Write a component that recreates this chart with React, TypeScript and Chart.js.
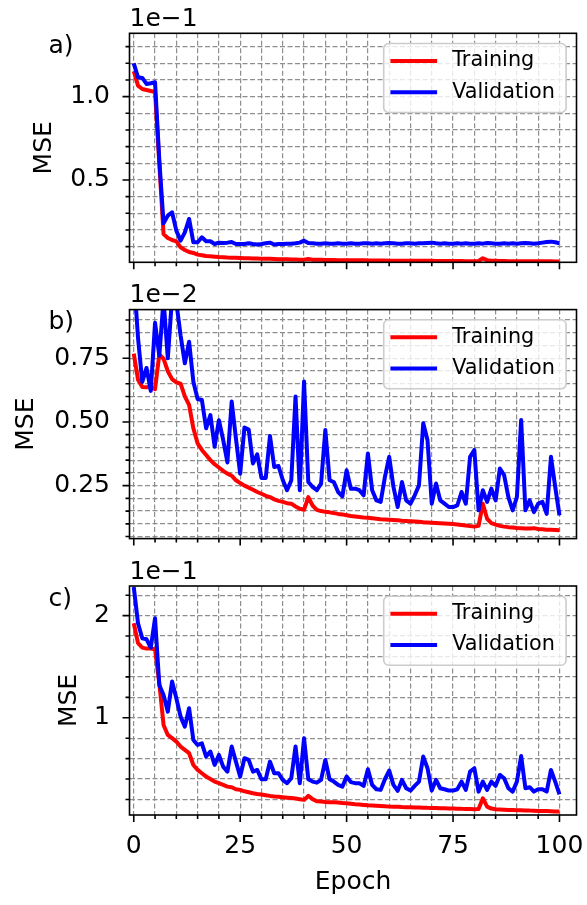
import React, { useEffect, useRef } from 'react';
import { Chart, registerables } from 'chart.js';

Chart.register(...registerables);

const FONT = "'DejaVu Sans', sans-serif";
Chart.defaults.font.family = FONT;
Chart.defaults.color = '#000';

// ---------------- data (values in units of the axis offset: 1e-1, 1e-2, 1e-1) -------------
const epochs: number[] = Array.from({ length: 101 }, (_, i) => i);

const trainA = [
  1.152, 1.066, 1.046, 1.040, 1.034, 1.028, 0.600, 0.175, 0.152, 0.140,
  0.132, 0.096, 0.080, 0.068, 0.062, 0.052, 0.048, 0.044, 0.042, 0.040,
  0.038, 0.037, 0.035, 0.034, 0.033, 0.032, 0.031, 0.030, 0.029, 0.029,
  0.028, 0.027, 0.027, 0.026, 0.025, 0.024, 0.024, 0.023, 0.023, 0.022,
  0.022, 0.026, 0.022, 0.021, 0.021, 0.020, 0.020, 0.020, 0.019, 0.019,
  0.019, 0.018, 0.018, 0.018, 0.018, 0.017, 0.017, 0.017, 0.017, 0.017,
  0.016, 0.016, 0.016, 0.016, 0.016, 0.015, 0.015, 0.015, 0.015, 0.015,
  0.015, 0.014, 0.014, 0.014, 0.014, 0.014, 0.014, 0.014, 0.013, 0.013,
  0.013, 0.014, 0.030, 0.019, 0.016, 0.015, 0.014, 0.014, 0.013, 0.013,
  0.013, 0.013, 0.013, 0.012, 0.012, 0.012, 0.012, 0.012, 0.012, 0.011,
  0.011,
];
const valA = [
  1.200, 1.116, 1.112, 1.076, 1.080, 1.086, 0.620, 0.240, 0.286, 0.306,
  0.196, 0.136, 0.186, 0.266, 0.126, 0.126, 0.156, 0.132, 0.132, 0.116,
  0.124, 0.122, 0.124, 0.128, 0.116, 0.116, 0.116, 0.120, 0.116, 0.113,
  0.116, 0.120, 0.124, 0.113, 0.116, 0.116, 0.118, 0.118, 0.120, 0.124,
  0.136, 0.122, 0.120, 0.118, 0.118, 0.120, 0.118, 0.118, 0.120, 0.118,
  0.118, 0.120, 0.118, 0.118, 0.120, 0.120, 0.118, 0.120, 0.118, 0.120,
  0.122, 0.120, 0.118, 0.118, 0.120, 0.120, 0.118, 0.120, 0.120, 0.122,
  0.124, 0.120, 0.118, 0.120, 0.118, 0.118, 0.120, 0.118, 0.120, 0.118,
  0.118, 0.120, 0.118, 0.122, 0.120, 0.118, 0.118, 0.120, 0.118, 0.120,
  0.118, 0.120, 0.122, 0.120, 0.118, 0.120, 0.124, 0.128, 0.130, 0.126,
  0.120,
];

const trainB = [
  0.768, 0.666, 0.637, 0.636, 0.637, 0.629, 0.765, 0.748, 0.699, 0.668,
  0.655, 0.650, 0.600, 0.567, 0.475, 0.416, 0.390, 0.370, 0.350, 0.334,
  0.321, 0.308, 0.297, 0.289, 0.271, 0.260, 0.250, 0.242, 0.234, 0.225,
  0.218, 0.210, 0.205, 0.196, 0.190, 0.186, 0.181, 0.179, 0.168, 0.159,
  0.155, 0.205, 0.172, 0.155, 0.150, 0.147, 0.145, 0.142, 0.139, 0.137,
  0.134, 0.131, 0.129, 0.127, 0.125, 0.124, 0.122, 0.120, 0.118, 0.117,
  0.116, 0.115, 0.114, 0.112, 0.111, 0.110, 0.109, 0.108, 0.106, 0.105,
  0.104, 0.103, 0.102, 0.101, 0.100, 0.099, 0.097, 0.095, 0.093, 0.091,
  0.089, 0.092, 0.179, 0.120, 0.103, 0.097, 0.092, 0.089, 0.087, 0.086,
  0.084, 0.083, 0.082, 0.082, 0.083, 0.080, 0.079, 0.077, 0.077, 0.076,
  0.075,
];
const valB = [
  1.080, 0.830, 0.657, 0.712, 0.622, 0.889, 0.760, 0.980, 0.750, 0.990,
  0.970, 0.840, 0.730, 0.815, 0.658, 0.590, 0.586, 0.475, 0.527, 0.403,
  0.507, 0.430, 0.341, 0.580, 0.435, 0.297, 0.478, 0.470, 0.337, 0.373,
  0.280, 0.280, 0.445, 0.323, 0.327, 0.272, 0.232, 0.270, 0.600, 0.232,
  0.659, 0.264, 0.245, 0.232, 0.258, 0.468, 0.271, 0.264, 0.225, 0.208,
  0.310, 0.238, 0.238, 0.232, 0.212, 0.376, 0.232, 0.192, 0.186, 0.284,
  0.363, 0.245, 0.166, 0.264, 0.192, 0.179, 0.212, 0.251, 0.495, 0.429,
  0.179, 0.258, 0.192, 0.179, 0.166, 0.166, 0.172, 0.225, 0.179, 0.363,
  0.390, 0.153, 0.232, 0.186, 0.238, 0.192, 0.317, 0.291, 0.205, 0.153,
  0.205, 0.508, 0.153, 0.192, 0.146, 0.179, 0.186, 0.139, 0.363, 0.245,
  0.133,
];

const trainC = [
  1.925, 1.730, 1.687, 1.677, 1.677, 1.670, 1.338, 0.930, 0.832, 0.800,
  0.767, 0.718, 0.685, 0.653, 0.538, 0.490, 0.457, 0.424, 0.401, 0.375,
  0.359, 0.343, 0.326, 0.320, 0.300, 0.294, 0.280, 0.271, 0.261, 0.254,
  0.248, 0.242, 0.235, 0.230, 0.226, 0.222, 0.218, 0.214, 0.209, 0.203,
  0.196, 0.235, 0.203, 0.183, 0.180, 0.176, 0.174, 0.172, 0.170, 0.166,
  0.163, 0.158, 0.153, 0.150, 0.147, 0.144, 0.142, 0.139, 0.136, 0.133,
  0.130, 0.129, 0.128, 0.126, 0.125, 0.124, 0.122, 0.121, 0.120, 0.118,
  0.117, 0.116, 0.115, 0.114, 0.112, 0.111, 0.110, 0.108, 0.107, 0.106,
  0.104, 0.106, 0.212, 0.130, 0.111, 0.104, 0.102, 0.100, 0.098, 0.097,
  0.095, 0.094, 0.093, 0.091, 0.090, 0.088, 0.087, 0.086, 0.085, 0.083,
  0.082,
];
const valC = [
  2.280, 1.925, 1.778, 1.768, 1.687, 1.974, 1.321, 1.223, 1.060, 1.354,
  1.190, 1.011, 0.913, 1.093, 0.783, 0.734, 0.750, 0.620, 0.669, 0.538,
  0.636, 0.522, 0.473, 0.718, 0.571, 0.424, 0.604, 0.587, 0.473, 0.489,
  0.398, 0.398, 0.571, 0.457, 0.457, 0.392, 0.359, 0.408, 0.718, 0.359,
  0.799, 0.398, 0.375, 0.365, 0.392, 0.587, 0.398, 0.375, 0.343, 0.326,
  0.424, 0.370, 0.360, 0.359, 0.333, 0.496, 0.343, 0.300, 0.294, 0.398,
  0.483, 0.343, 0.284, 0.392, 0.310, 0.287, 0.333, 0.375, 0.620, 0.506,
  0.287, 0.392, 0.310, 0.300, 0.287, 0.287, 0.300, 0.375, 0.294, 0.473,
  0.506, 0.277, 0.375, 0.294, 0.375, 0.333, 0.440, 0.408, 0.310, 0.277,
  0.375, 0.626, 0.310, 0.320, 0.277, 0.300, 0.300, 0.277, 0.489, 0.375,
  0.251,
];

// ---------------- ticks ----------------
const xTicks = [0, 5, 10, 15, 20, 25, 30, 35, 40, 45, 50, 55, 60, 65, 70, 75, 80, 85, 90, 95, 100];
const xMajor = [0, 25, 50, 75, 100];
const xMajorLabels = ['0', '25', '50', '75', '100'];

const yTicksA = [0.1, 0.2, 0.3, 0.4, 0.5, 0.6, 0.7, 0.8, 0.9, 1.0, 1.1, 1.2, 1.3];
const yMajorA = [0.5, 1.0];
const yLabelsA = ['0.5', '1.0'];

const yTicksB = [0.05, 0.1, 0.15, 0.2, 0.25, 0.3, 0.35, 0.4, 0.45, 0.5, 0.55, 0.6, 0.65, 0.7, 0.75, 0.8, 0.85, 0.9];
const yMajorB = [0.25, 0.5, 0.75];
const yLabelsB = ['0.25', '0.50', '0.75'];

const yTicksC = [0.2, 0.4, 0.6, 0.8, 1.0, 1.2, 1.4, 1.6, 1.8, 2.0, 2.2];
const yMajorC = [1, 2];
const yLabelsC = ['1', '2'];

const seriesNames = ['Training', 'Validation'];
const seriesColors = ['#ff0000', '#0000ff'];

// ---------------- panel layout ----------------
type Panel = {
  key: string; letter: string; offsetText: string;
  train: number[]; val: number[];
  yMin: number; yMax: number; yTicks: number[]; yMajor: number[]; yLabels: string[];
  titlePad: number; canvasTop: number; canvasH: number; padTop: number; xH: number; showX: boolean;
};

const PANELS: Panel[] = [
  { key: 'a', letter: 'a)', offsetText: '1e\u22121', train: trainA, val: valA,
    yMin: 0.006, yMax: 1.38, yTicks: yTicksA, yMajor: yMajorA, yLabels: yLabelsA,
    titlePad: 32.2, canvasTop: 0, canvasH: 276, padTop: 33.3, xH: 13.7, showX: false },
  { key: 'b', letter: 'b)', offsetText: '1e\u22122', train: trainB, val: valB,
    yMin: 0.042, yMax: 0.941, yTicks: yTicksB, yMajor: yMajorB, yLabels: yLabelsB,
    titlePad: 13.8, canvasTop: 276, canvasH: 276, padTop: 33.6, xH: 13.4, showX: false },
  { key: 'c', letter: 'c)', offsetText: '1e\u22121', train: trainC, val: valC,
    yMin: 0.048, yMax: 2.29, yTicks: yTicksC, yMajor: yMajorC, yLabels: yLabelsC,
    titlePad: 57.2, canvasTop: 552, canvasH: 353, padTop: 34, xH: 90, showX: true },
];

const GRID = '#8e8e8e';
const LINE_W = 4;
const near = (a: number, b: number) => Math.abs(a - b) < 1e-9;

function decorPlugin(p: Panel) {
  return {
    id: 'decor_' + p.key,
    afterDraw(chart: any) {
      const ctx: CanvasRenderingContext2D = chart.ctx;
      const { left, right, top, bottom } = chart.chartArea;
      const xs = chart.scales.x;
      const ys = chart.scales.y;
      ctx.save();
      // tick marks
      ctx.strokeStyle = '#000';
      ctx.lineWidth = 1.6;
      ctx.setLineDash([]);
      ctx.beginPath();
      xTicks.forEach((v) => {
        const px = xs.getPixelForValue(v);
        const len = xMajor.some((m) => near(m, v)) ? 7 : 4;
        ctx.moveTo(px, bottom);
        ctx.lineTo(px, bottom + len);
      });
      p.yTicks.forEach((v) => {
        const py = ys.getPixelForValue(v);
        const len = p.yMajor.some((m) => near(m, v)) ? 7 : 4;
        ctx.moveTo(left, py);
        ctx.lineTo(left - len, py);
      });
      ctx.stroke();
      // spines
      ctx.strokeRect(left, top, right - left, bottom - top);

      // offset text and panel letter
      ctx.fillStyle = '#000';
      ctx.font = `25px ${FONT}`;
      ctx.textAlign = 'left';
      ctx.textBaseline = 'alphabetic';
      ctx.fillText(p.offsetText, left, top - 7.5);
      ctx.fillText(p.letter, 48.5, top + 19.5);

      // legend
      const boxW = 182.4;
      const boxH = 69;
      const bx = right - 10.4 - boxW;
      const by = top + 10.2;
      const r = 5;
      ctx.beginPath();
      ctx.moveTo(bx + r, by);
      ctx.lineTo(bx + boxW - r, by);
      ctx.arcTo(bx + boxW, by, bx + boxW, by + r, r);
      ctx.lineTo(bx + boxW, by + boxH - r);
      ctx.arcTo(bx + boxW, by + boxH, bx + boxW - r, by + boxH, r);
      ctx.lineTo(bx + r, by + boxH);
      ctx.arcTo(bx, by + boxH, bx, by + boxH - r, r);
      ctx.lineTo(bx, by + r);
      ctx.arcTo(bx, by, bx + r, by, r);
      ctx.closePath();
      ctx.fillStyle = 'rgba(255,255,255,0.8)';
      ctx.fill();
      ctx.strokeStyle = '#cccccc';
      ctx.lineWidth = 1.6;
      ctx.stroke();

      const rows = [17.5, 48.8];
      ctx.font = `20.8px ${FONT}`;
      ctx.textBaseline = 'middle';
      seriesNames.forEach((name, i) => {
        const ly = by + rows[i];
        ctx.strokeStyle = seriesColors[i];
        ctx.lineWidth = LINE_W;
        ctx.lineCap = 'butt';
        ctx.beginPath();
        ctx.moveTo(bx + 6.7, ly);
        ctx.lineTo(bx + 53.4, ly);
        ctx.stroke();
        ctx.fillStyle = '#000';
        ctx.fillText(name, bx + 68.5, ly);
      });
      ctx.restore();
    },
  };
}

function buildConfig(p: Panel): any {
  const yLabel = (v: number) => {
    const k = p.yMajor.findIndex((m) => near(m, v));
    return k >= 0 ? p.yLabels[k] : '';
  };
  const xLabel = (v: number) => {
    if (!p.showX) return '';
    const k = xMajor.findIndex((m) => near(m, v));
    return k >= 0 ? xMajorLabels[k] : '';
  };
  return {
    type: 'line',
    data: {
      datasets: [
        {
          label: seriesNames[0],
          data: epochs.map((e, i) => ({ x: e, y: p.train[i] })),
          borderColor: seriesColors[0],
          borderWidth: LINE_W,
          pointRadius: 0,
          tension: 0,
          borderJoinStyle: 'round',
          order: 1,
        },
        {
          label: seriesNames[1],
          data: epochs.map((e, i) => ({ x: e, y: p.val[i] })),
          borderColor: seriesColors[1],
          borderWidth: LINE_W,
          pointRadius: 0,
          tension: 0,
          borderJoinStyle: 'round',
          order: 0,
        },
      ],
    },
    options: {
      animation: false,
      responsive: false,
      maintainAspectRatio: false,
      events: [],
      layout: { padding: { left: 0, right: 10.5, top: p.padTop, bottom: 0 } },
      plugins: { legend: { display: false }, tooltip: { enabled: false }, title: { display: false } },
      scales: {
        x: {
          type: 'linear',
          min: -1,
          max: 104,
          bounds: 'data',
          afterBuildTicks: (s: any) => { s.ticks = xTicks.map((v) => ({ value: v })); },
          afterFit: (s: any) => { s.height = p.xH; s.paddingLeft = 0; s.paddingRight = 0; },
          grid: { color: GRID, lineWidth: 1.2, drawTicks: false },
          border: { display: false, dash: [5, 2.5] },
          ticks: {
            autoSkip: false, maxRotation: 0, minRotation: 0, padding: 19.2,
            color: '#000', font: { size: 25, family: FONT, lineHeight: 1 },
            callback: (v: number) => xLabel(v),
          },
          title: p.showX
            ? { display: true, text: 'Epoch', color: '#000', font: { size: 25, family: FONT, lineHeight: 1 }, padding: { top: 0, bottom: 10.1 } }
            : { display: false },
        },
        y: {
          type: 'linear',
          min: p.yMin,
          max: p.yMax,
          bounds: 'data',
          afterBuildTicks: (s: any) => { s.ticks = p.yTicks.map((v) => ({ value: v })); },
          afterFit: (s: any) => { s.width = 129.5; s.paddingTop = 0; s.paddingBottom = 0; },
          grid: { color: GRID, lineWidth: 1.2, drawTicks: false },
          border: { display: false, dash: [5, 2.5] },
          ticks: {
            autoSkip: false, padding: 19.5,
            color: '#000', font: { size: 25, family: FONT, lineHeight: 1 },
            callback: (v: number) => yLabel(v),
          },
          title: { display: true, text: 'MSE', color: '#000', font: { size: 25, family: FONT, lineHeight: 1 }, padding: { top: p.titlePad, bottom: 0 } },
        },
      },
    },
    plugins: [decorPlugin(p)],
  };
}

export default function App() {
  const refA = useRef<HTMLCanvasElement>(null);
  const refB = useRef<HTMLCanvasElement>(null);
  const refC = useRef<HTMLCanvasElement>(null);
  const refs = [refA, refB, refC];

  useEffect(() => {
    const charts = PANELS.map((p, i) => new Chart(refs[i].current as HTMLCanvasElement, buildConfig(p)));
    return () => charts.forEach((c) => c.destroy());
  }, []);

  return (
    <div style={{ position: 'absolute', left: 0, top: 0, width: 587, height: 905, background: '#fff', overflow: 'hidden' }}>
      {PANELS.map((p, i) => (
        <canvas
          key={p.key}
          ref={refs[i]}
          width={587}
          height={p.canvasH}
          style={{ position: 'absolute', left: 0, top: p.canvasTop, width: 587, height: p.canvasH }}
        />
      ))}
    </div>
  );
}
